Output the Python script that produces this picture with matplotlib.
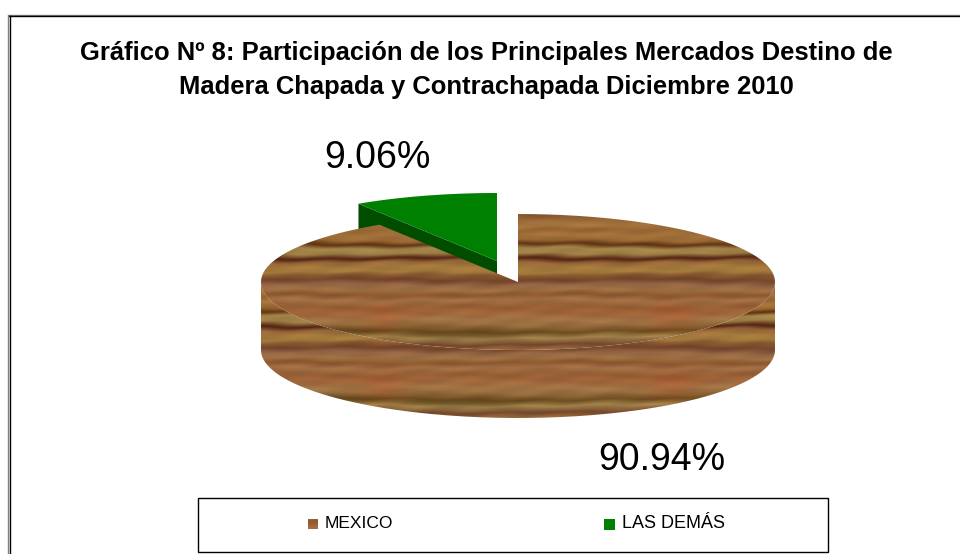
import numpy as np
import matplotlib
matplotlib.use("Agg")
import matplotlib.pyplot as plt
from matplotlib.patches import PathPatch, Polygon, Rectangle
from matplotlib.path import Path

categories = ["MEXICO", "LAS DEMÁS"]
values = [90.94, 9.06]
value_labels = ["90.94%", "9.06%"]
title = "Gráfico Nº 8: Participación de los Principales Mercados Destino de\nMadera Chapada y Contrachapada Diciembre 2010"

# wood grain, colour by row (y pixel of the top face, colour)
grain_y = [214, 220, 225, 230, 235, 240, 244, 248, 253, 258, 262, 267, 272, 275, 280, 285, 290,
           295, 300, 307, 313, 320, 325, 332, 338, 345, 350]
grain_c = ["#8a5a30", "#9c6c3a", "#a5763e", "#966433", "#a4743c", "#986833", "#5e3312", "#a5864a", "#a08046",
           "#522212", "#966639", "#a4793c", "#a47a3c", "#8a5a30", "#74442a", "#966646", "#9e7042",
           "#8c562e", "#a27045", "#965e34", "#a0653a", "#a27446", "#966c3e", "#704e20", "#a3844c", "#74482c",
           "#96663a"]

cx, cy, rx, ry, depth = 518, 282, 257, 68, 68
explode = (-21, -21)


def wood():
    xs = np.arange(rx * 2 + 1)
    ys = np.arange(grain_y[0], grain_y[-1] + 1)
    rgb = np.array([matplotlib.colors.to_rgb(c) for c in grain_c])
    X, Y = np.meshgrid(xs, ys)
    # rows bend a little along x so the lines do not look ruled
    Yw = Y + 1.0 * np.sin(X / 47.0 + Y / 9.0) + 0.7 * np.sin(X / 11.0 + Y / 4.0)
    img = np.stack([np.interp(Yw, grain_y, rgb[:, i]) for i in range(3)], axis=2)
    img *= (1 + 0.025 * np.sin(X / 9.0 + Y / 2.3) + 0.025 * np.sin(X / 23.0 - Y / 1.7))[:, :, None]
    # reddish patches and darker streaks seen in the wood
    for x0, y0, sx, sy, tint in [(410, 320, 24, 16, (1.04, 0.92, 0.88)),
                                 (122, 322, 20, 16, (1.04, 0.92, 0.88)),
                                 (40, 332, 60, 4, (0.80, 0.80, 0.72)),
                                 (200, 335, 60, 4, (0.80, 0.80, 0.72))]:
        g = np.exp(-((X - x0) / sx) ** 2 - ((Y - y0) / sy) ** 2)[:, :, None]
        img = img * (1 + g * (np.array(tint) - 1))
    return np.clip(img, 0, 1)


def arc(a0, a1, x0, y0, n=200):
    t = np.radians(np.linspace(a0, a1, n))
    return np.column_stack([x0 + rx * np.cos(t), y0 - ry * np.sin(t)])


fig = plt.figure(figsize=(9.6, 5.54), dpi=100)
ax = fig.add_axes([0, 0, 1, 1])
tex = wood()

# slice angles run clockwise from 12 o'clock, biggest first
main_end = 90 - values[0] / sum(values) * 360
other_end = main_end - values[1] / sum(values) * 360

# exploded slice goes first, main pie covers its foot
ox, oy = cx + explode[0], cy + explode[1]
other_arc = arc(main_end, other_end, ox, oy)
c0 = other_arc[0]
ax.add_patch(Polygon([(ox, oy), c0, c0 + (0, depth), (ox, oy + depth)], fc="#004d00", ec="none"))
ax.add_patch(Polygon(np.vstack([[ox, oy], other_arc]), fc="#008000", ec="none"))

# side of main pie
side = np.vstack([arc(180, 360, cx, cy + depth), arc(360, 180, cx, cy)])
side_patch = PathPatch(Path(np.vstack([side, side[0]])), fc="none", ec="none")
ax.add_patch(side_patch)
im = ax.imshow(tex, extent=(cx - rx, cx + rx, grain_y[-1] + depth, grain_y[0] + depth),
               aspect="auto", interpolation="bilinear", zorder=2)
im.set_clip_path(side_patch)

# top of main pie
top = np.vstack([[cx, cy], arc(90, main_end, cx, cy), [[cx, cy]]])
top_patch = PathPatch(Path(top), fc="none", ec="none")
ax.add_patch(top_patch)
im2 = ax.imshow(tex, extent=(cx - rx, cx + rx, grain_y[-1], grain_y[0]),
                aspect="auto", interpolation="bilinear", zorder=3)
im2.set_clip_path(top_patch)

ax.axis("off")

# frame: only top and left are in the picture
ax.plot([8.5, 960], [15, 15], color="#808080", lw=1.0, zorder=4)
ax.plot([9, 960], [16, 16], color="black", lw=1.0, zorder=4)
ax.plot([8, 8], [15, 554], color="#808080", lw=1.0, zorder=4)
ax.plot([9.5, 9.5], [16, 554], color="black", lw=1.0, zorder=4)

font = "Liberation Sans"
ax.text(486, 70, title, ha="center", va="center", fontsize=18.45, fontweight="bold",
        family=font, linespacing=1.5, zorder=5)
ax.text(377, 158, value_labels[1], ha="center", va="center", fontsize=27, family=font, zorder=5)
ax.text(662, 460, value_labels[0], ha="center", va="center", fontsize=27, family=font, zorder=5)

# legend
ax.add_patch(Rectangle((198, 498), 630, 54, fc="white", ec="black", lw=1.0, zorder=4))
ax.imshow(tex[90:100, 200:210], extent=(308, 318, 529, 519), aspect="auto", zorder=5)
ax.text(325, 524, categories[0], ha="left", va="center", fontsize=12.5, family=font, zorder=5)
ax.add_patch(Rectangle((604, 519), 11, 11, fc="#008000", ec="none", zorder=5))
ax.text(622, 523, categories[1], ha="left", va="center", fontsize=13, family=font, zorder=5)
ax.set_xlim(0, 960)
ax.set_ylim(554, 0)

fig.savefig("out.png", dpi=100)
